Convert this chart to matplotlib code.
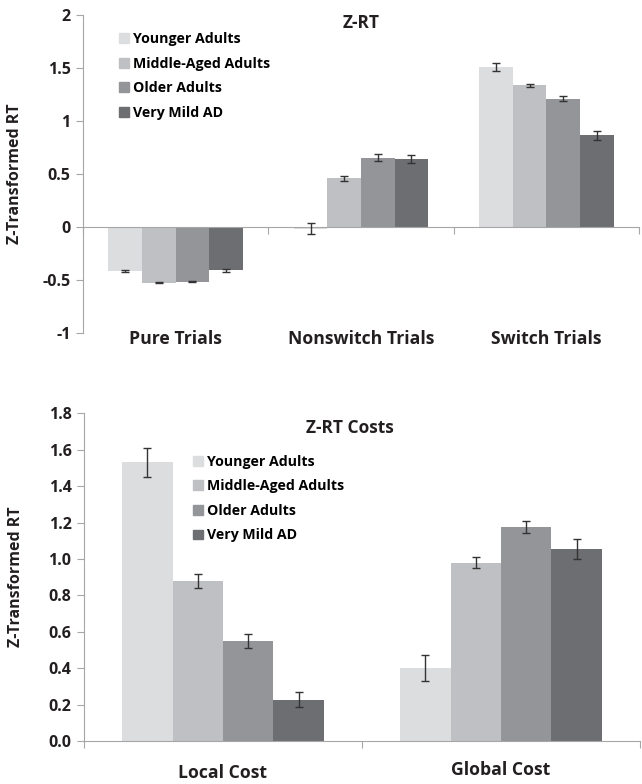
import numpy as np
import matplotlib.pyplot as plt
from matplotlib.patches import Patch
from matplotlib.transforms import blended_transform_factory

plt.rcParams['font.family'] = ['Open Sans', 'DejaVu Sans']
plt.rcParams['font.weight'] = 'bold'

groups = ['Younger Adults', 'Middle-Aged Adults', 'Older Adults', 'Very Mild AD']
colors = ['#dcdddf', '#bfc0c3', '#949598', '#6d6e71']

# Z-RT panel
rt_cats = ['Pure Trials', 'Nonswitch Trials', 'Switch Trials']
rt_young = [-0.415, -0.015, 1.51]
rt_middle = [-0.525, 0.46, 1.335]
rt_older = [-0.515, 0.655, 1.21]
rt_vmad = [-0.41, 0.64, 0.865]
rt_err_young = [0.01, 0.05, 0.04]
rt_err_middle = [0.005, 0.025, 0.015]
rt_err_older = [0.008, 0.03, 0.025]
rt_err_vmad = [0.015, 0.04, 0.04]

# Z-RT Costs panel
cost_cats = ['Local Cost', 'Global Cost']
cost_young = [1.53, 0.40]
cost_middle = [0.88, 0.98]
cost_older = [0.55, 1.178]
cost_vmad = [0.227, 1.056]
cost_err_young = [0.08, 0.07]
cost_err_middle = [0.04, 0.03]
cost_err_older = [0.04, 0.033]
cost_err_vmad = [0.04, 0.055]

AXIS_GRAY = '#a6a6a6'
TEXT = '#231f20'


def draw_bars(ax, cats, series, errs):
    n = len(series)
    group_w = 0.725
    w = group_w / n
    x = np.arange(len(cats))
    for i, (vals, err) in enumerate(zip(series, errs)):
        pos = x - group_w / 2 + w * (i + 0.5)
        ax.bar(pos, vals, width=w, color=colors[i], zorder=2)
        ax.errorbar(pos, vals, yerr=err, fmt='none', ecolor='#333333',
                    elinewidth=1.0, capsize=3, capthick=1.0, zorder=3)
    ax.set_xlim(-0.5, len(cats) - 0.5)
    for s in ['top', 'right']:
        ax.spines[s].set_visible(False)
    ax.spines['left'].set_color(AXIS_GRAY)
    ax.spines['bottom'].set_color(AXIS_GRAY)
    ax.spines['bottom'].set_position(('data', 0))
    ax.set_xticks(np.arange(len(cats) + 1) - 0.5)
    ax.set_xticklabels([])
    ax.tick_params(axis='x', colors=AXIS_GRAY, length=5, direction='out')
    ax.tick_params(axis='y', colors=AXIS_GRAY, length=5, labelcolor=TEXT,
                   labelsize=11.5, pad=4)
    ax.set_ylabel('Z-Transformed RT', fontsize=11.5, fontweight='bold', color=TEXT)


fig = plt.figure(figsize=(6.42, 7.84), dpi=100)
handles = [Patch(color=c) for c in colors]
legend_kw = dict(loc='upper left', frameon=False, borderpad=0, borderaxespad=0,
                 handlelength=0.7, handleheight=0.7, handletextpad=0.3,
                 labelspacing=0.75, prop={'size': 10.2, 'weight': 'bold'})

# top panel
ax1 = fig.add_axes([0.1293, 0.5753, 0.866, 0.4056])
draw_bars(ax1, rt_cats, [rt_young, rt_middle, rt_older, rt_vmad],
          [rt_err_young, rt_err_middle, rt_err_older, rt_err_vmad])
ax1.set_ylim(-1, 2)
ax1.set_yticks([-1, -0.5, 0, 0.5, 1, 1.5, 2])
ax1.set_yticklabels(['-1', '-0.5', '0', '0.5', '1', '1.5', '2'], fontweight='bold')
ax1.yaxis.set_label_coords(-0.108, 0.5)
tr1 = blended_transform_factory(ax1.transData, ax1.transAxes)
for i, c in enumerate(rt_cats):
    ax1.text(i, -0.02, c, transform=tr1, ha='center', va='center',
             fontsize=12.7, fontweight='bold', color=TEXT)
ax1.text(0.501, 0.975, 'Z-RT', transform=ax1.transAxes, ha='center', va='center',
         fontsize=12.5, fontweight='bold', color=TEXT)
ax1.legend(handles, groups, bbox_to_anchor=(0.065, 0.946), **legend_kw)

# bottom panel
ax2 = fig.add_axes([0.1308, 0.0548, 0.866, 0.418])
draw_bars(ax2, cost_cats, [cost_young, cost_middle, cost_older, cost_vmad],
          [cost_err_young, cost_err_middle, cost_err_older, cost_err_vmad])
ax2.set_ylim(0, 1.8)
ticks2 = np.arange(0, 1.81, 0.2)
ax2.set_yticks(ticks2)
ax2.set_yticklabels(['%.1f' % v for v in ticks2], fontweight='bold')
ax2.yaxis.set_label_coords(-0.108, 0.5)
tr2 = blended_transform_factory(ax2.transData, ax2.transAxes)
ax2.text(0, -0.097, cost_cats[0], transform=tr2, ha='center', va='center',
         fontsize=12.7, fontweight='bold', color=TEXT)
ax2.text(1, -0.089, cost_cats[1], transform=tr2, ha='center', va='center',
         fontsize=12.7, fontweight='bold', color=TEXT)
ax2.text(0.478, 0.955, 'Z-RT Costs', transform=ax2.transAxes, ha='center', va='center',
         fontsize=12.5, fontweight='bold', color=TEXT)
ax2.legend(handles, groups, bbox_to_anchor=(0.196, 0.874), **legend_kw)

fig.savefig('out.png', dpi=100)
